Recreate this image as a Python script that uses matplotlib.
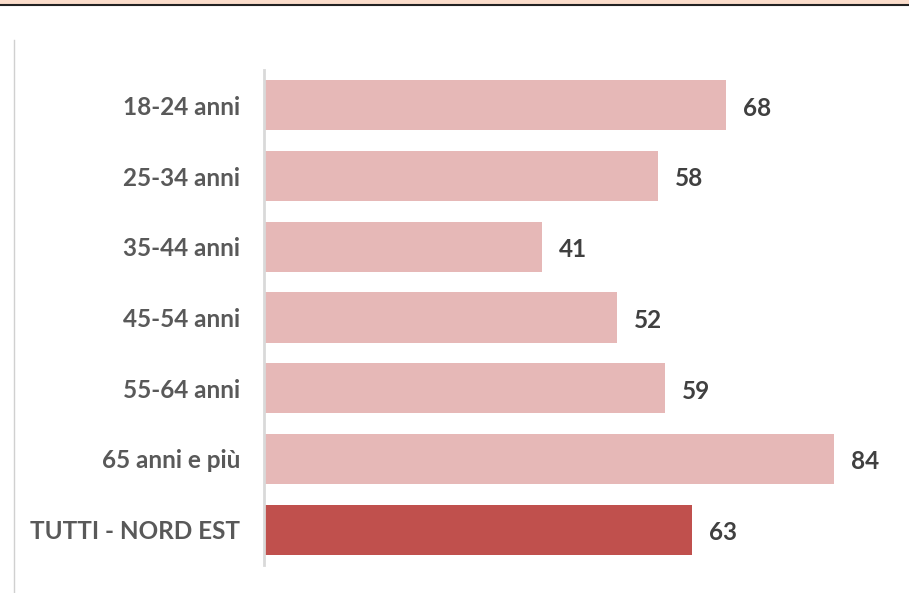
import matplotlib.pyplot as plt
from matplotlib.patches import Rectangle
from matplotlib.lines import Line2D

categories = ['18-24 anni', '25-34 anni', '35-44 anni', '45-54 anni',
              '55-64 anni', '65 anni e più', 'TUTTI - NORD EST']
values = [68, 58, 41, 52, 59, 84, 63]
colors = ['#E6B8B7'] * 6 + ['#C0504D']

plt.rcParams['font.family'] = ['Lato', 'DejaVu Sans']

fig = plt.figure(figsize=(9.09, 5.93), dpi=100)
W, H = 909, 593

# top band and frame lines
fig.add_artist(Rectangle((0, 1 - 4 / H), 1, 4 / H, transform=fig.transFigure,
                         color='#FBDDCB', lw=0))
fig.add_artist(Line2D([0, 1], [1 - 4.5 / H] * 2, transform=fig.transFigure,
                      color='#222222', lw=1.5))
fig.add_artist(Line2D([14 / W] * 2, [1 - 40 / H, 0], transform=fig.transFigure,
                      color='#D0D0D0', lw=1))

ax = fig.add_axes([264 / W, 1 - 565 / H, 611 / W, 495 / H])
y = range(len(categories))
bars = ax.barh(y, values, height=0.71, color=colors)
ax.set_xlim(0, 90)
ax.set_ylim(6.5, -0.5)
ax.set_yticks(list(y))
ax.set_yticklabels(categories, fontsize=17.5, fontweight='bold', color='#595959')
ax.tick_params(axis='y', length=0, pad=17)
ax.set_xticks([])
for s in ['top', 'right', 'bottom']:
    ax.spines[s].set_visible(False)
ax.spines['left'].set_color('#D9D9D9')
ax.spines['left'].set_linewidth(2)

for b, v in zip(bars, values):
    ax.text(v + 2.5, b.get_y() + b.get_height() / 2 + 0.04, str(v), va='center', ha='left',
            fontsize=17.5, fontweight='bold', color='#404040')

fig.savefig('out.png', dpi=100)
